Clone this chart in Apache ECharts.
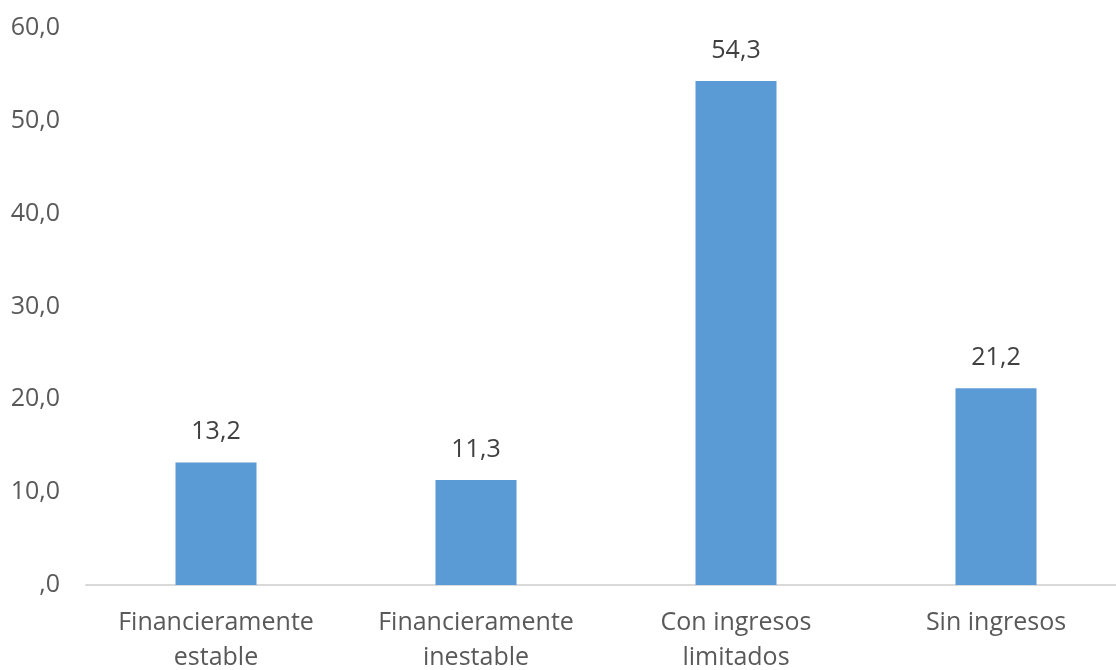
<!DOCTYPE html>
<html><head><meta charset="utf-8">
<script src="https://cdn.jsdelivr.net/npm/echarts@6/dist/echarts.min.js"></script>
<style>html,body{margin:0;padding:0;background:#fff}#c{width:1116px;height:670px}</style>
</head><body><div id="c"></div>
<script>
const categories = ["Financieramente\nestable", "Financieramente\ninestable", "Con ingresos\nlimitados", "Sin ingresos"];
const values = [13.2, 11.3, 54.3, 21.2];
const yTicks = { min: 0, max: 60, interval: 10 };

function fmt(v){ if (v === 0) return ',0'; return v.toFixed(1).replace('.', ','); }

const chart = echarts.init(document.getElementById('c'));
chart.setOption({
  animation: false,
  grid: { left: 86, right: -10, top: 28, bottom: 85, containLabel: false, outerBoundsMode: 'none' },
  xAxis: {
    type: 'category', data: categories,
    axisLine: { lineStyle: { color: '#d9d9d9', width: 2 } },
    axisTick: { show: false },
    axisLabel: { color: '#595959', fontSize: 25, fontFamily: 'Open Sans', margin: 20, lineHeight: 35, interval: 0 }
  },
  yAxis: {
    type: 'value', min: yTicks.min, max: yTicks.max, interval: yTicks.interval,
    axisLine: { show: false }, axisTick: { show: false }, splitLine: { show: false },
    axisLabel: { color: '#595959', fontSize: 25, fontFamily: 'Open Sans', margin: 26, formatter: fmt }
  },
  series: [{
    type: 'bar', data: values, barWidth: 81,
    itemStyle: { color: '#5b9bd5' },
    label: { show: true, position: 'top', distance: 18, color: '#404040', fontSize: 25, fontFamily: 'Open Sans', formatter: p => fmt(p.value) }
  }]
});
</script></body></html>
